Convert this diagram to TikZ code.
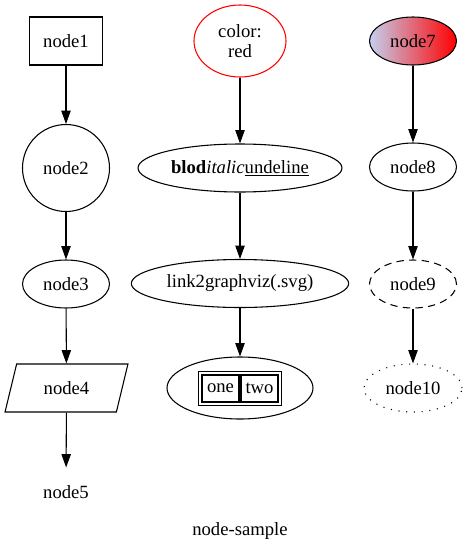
\documentclass[tikz,border=0pt]{standalone}
\usepackage{fontspec}
\setmainfont{Liberation Serif}
\newfontfamily\gvfont{Liberation Serif}
\usetikzlibrary{arrows.meta,shapes.geometric,fit}
\definecolor{steelblue}{RGB}{196,208,238}
\tikzset{
  gvtext/.style={font=\gvfont\fontsize{14}{14.5}\selectfont},
  gv/.style={gvtext,draw,line width=0.8pt,inner sep=0pt},
  gvellipse/.style={gv,ellipse,minimum width=65.25pt,minimum height=36pt},
  cell/.style={gv,rectangle,minimum width=27.75pt,minimum height=20.25pt},
  edge/.style={line width=0.8pt,-{Triangle[length=10pt,width=7pt]}},
}
\begin{document}
\begin{tikzpicture}[x=0.75pt,y=-0.75pt]
        \useasboundingbox (0,0) rectangle (467,554);
        %% left column
        \node[gv,rectangle,minimum width=54.75pt,minimum height=36pt] (node1) at (66,41) {node1};
        \node[gv,circle,minimum size=65.25pt] (node2) at (66,168) {node2};
        \node[gvellipse] (node3) at (66,284) {node3};
        \node[gv,trapezium,trapezium left angle=68,trapezium right angle=112,
              trapezium stretches=true,minimum width=92.25pt,minimum height=36pt] (node4) at (66.5,388) {node4};
        \node[gv,draw=none,minimum width=54pt,minimum height=36pt] (node5) at (66,492) {node5};
        %% middle column
        \node[gv,ellipse,draw=red,align=center,minimum width=69pt,minimum height=54pt] (colored) at (240,41) {color:\\red};
        \node[gv,ellipse,minimum width=153pt,minimum height=36pt] (styled) at (240,168)
            {\textbf{blod}\textit{italic}\underline{undeline}};
        \node[gv,ellipse,minimum width=163pt,minimum height=36pt] (link) at (240,283.5) {link2graphviz(.svg)};
        \node[gv,ellipse,minimum width=109.5pt,minimum height=46.5pt] (table) at (240,388) {};
        %% html table inside
        \node[cell] (one) at (220.5,388.5) {one};
        \node[cell] (two) at (259.5,388.5) {two};
        \node[draw,line width=0.8pt,inner sep=2.25pt,fit=(one)(two)] (frame) {};
        %% right column
        \node[gvellipse,left color=steelblue,right color=red] (node7) at (413,41) {node7};
        \node[gvellipse] (node8) at (413,167) {node8};
        \node[gvellipse,dash pattern=on 5.5pt off 4pt] (node9) at (413,284) {node9};
        \node[gvellipse,minimum width=73.5pt,dash pattern=on 0.8pt off 5pt] (node10) at (413,388) {node10};
        %% edges
        \foreach \a/\b in {node1/node2,node2/node3,node3/node4,node4/node5,
                           colored/styled,styled/link,link/table,
                           node7/node8,node8/node9,node9/node10}
            \draw[edge] (\a) -- (\b);
        %% graph label
        \node[gvtext] (title) at (240,531) {node-sample};
\end{tikzpicture}
\end{document}
